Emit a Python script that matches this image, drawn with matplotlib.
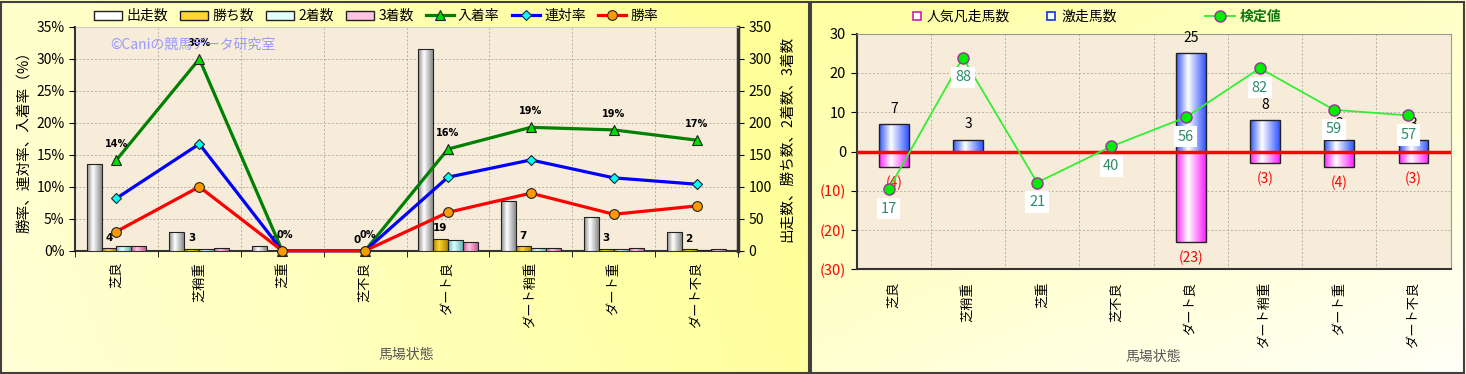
import numpy as np
import matplotlib
matplotlib.use('Agg')
import matplotlib.pyplot as plt
from matplotlib.colors import LinearSegmentedColormap
from matplotlib.lines import Line2D
from matplotlib.patches import Patch, Rectangle

plt.rcParams['font.family'] = ['Noto Sans CJK JP', 'DejaVu Sans']

# ---- data ----
categories = ['芝良', '芝稍重', '芝重', '芝不良', 'ダート良', 'ダート稍重', 'ダート重', 'ダート不良']
starts = [135, 30, 7, 1, 316, 78, 53, 29]
wins = [4, 3, 0, 0, 19, 7, 3, 2]
seconds = [7, 2, 0, 0, 17, 4, 3, 1]
thirds = [8, 4, 0, 0, 14, 4, 4, 2]
top3_rate = [14.2, 30.0, 0, 0, 15.9, 19.3, 18.9, 17.3]
quin_rate = [8.2, 16.7, 0, 0, 11.5, 14.2, 11.4, 10.4]
win_rate = [3.0, 10.0, 0, 0, 6.0, 9.0, 5.7, 7.0]
top3_labels = ['14%', '30%', '0%', '0%', '16%', '19%', '19%', '17%']

surge = [7, 3, 0, 0, 25, 8, 3, 3]
flop = [-4, 0, 0, 0, -23, -3, -4, -3]
kentei = [-9.6, 23.9, -7.9, 1.3, 8.7, 21.2, 10.6, 9.2]
kentei_labels = ['17', '88', '21', '40', '56', '82', '59', '57']

W, H = 1466, 374
fig = plt.figure(figsize=(W / 100, H / 100), dpi=100)


def panel_bg(rect, mode):
    bg = fig.add_axes(rect, zorder=-5)
    xx, yy = np.meshgrid(np.linspace(0, 1, 200), np.linspace(1, 0, 60))
    if mode == 'left':
        t = np.clip(0.35 + 0.6 * xx + 0.1 * yy, 0, 1)
    else:
        t = np.clip(0.4 * (1 - xx) + 0.5 * yy, 0, 1)
    yel = np.array([1, 1, 0.6])
    wht = np.array([1, 1, 0.97])
    img = wht + (yel - wht) * t[..., None]
    bg.imshow(img, aspect='auto', extent=(0, 1, 0, 1))
    bg.set_axis_off()


panel_bg([0, 0, 810 / W, 1], 'left')
panel_bg([810 / W, 0, 1 - 810 / W, 1], 'right')
fig.patches.append(Rectangle((1 / W, 1 / H), 808 / W, 371 / H, transform=fig.transFigure,
                             fill=False, edgecolor='#404040', lw=1.5))
fig.patches.append(Rectangle((811 / W, 1 / H), 653 / W, 371 / H, transform=fig.transFigure,
                             fill=False, edgecolor='#404040', lw=1.5))


def shade(ax, bars, edge, mid):
    cmap = LinearSegmentedColormap.from_list('g', [(0, edge), (0.4, mid), (1, edge)])
    grad = np.linspace(0, 1, 64).reshape(1, -1)
    for b in bars:
        x, y, w, h = b.get_x(), b.get_y(), b.get_width(), b.get_height()
        if h == 0:
            continue
        im = ax.imshow(grad, cmap=cmap, aspect='auto', zorder=2.9,
                       extent=(x, x + w, min(y, y + h), max(y, y + h)))
        im.set_clip_path(b)


x = np.arange(len(categories))
beige = '#F6ECD9'

# ================= left chart =================
ax = fig.add_axes([75 / W, 1 - 250.7 / H, 663 / W, 223.7 / H])
ax.set_facecolor(beige)
axl = ax.twinx()
ax.yaxis.tick_right()
ax.yaxis.set_label_position('right')
axl.yaxis.tick_left()
axl.yaxis.set_label_position('left')

bw = 0.18
bar_specs = [
    (starts, -1.5, '#8A8A8A', '#FFFFFF', '出走数'),
    (wins, -0.5, '#B08400', '#FFD633', '勝ち数'),
    (seconds, 0.5, '#66B8B8', '#E4FFFF', '2着数'),
    (thirds, 1.5, '#C45C96', '#FFC4E4', '3着数'),
]
handles = []
for vals, off, edge, mid, name in bar_specs:
    bars = ax.bar(x + off * bw, vals, bw, facecolor='none', edgecolor='#222222', lw=0.8, zorder=3)
    shade(ax, bars, edge, mid)
    handles.append(Patch(facecolor=mid, edgecolor='#222222', label=name))

for i, v in enumerate(wins):
    ax.annotate(str(v), (x[i] - 0.5 * bw, v), xytext=(0, 4), textcoords='offset points',
                ha='center', va='bottom', fontsize=7.5, fontweight='bold', family='DejaVu Sans')

line_specs = [
    (top3_rate, '#008000', '^', '#00DD00', '入着率'),
    (quin_rate, '#0000FF', 'D', '#00FFFF', '連対率'),
    (win_rate, '#FF0000', 'o', '#FF9900', '勝率'),
]
for vals, c, m, mfc, name in line_specs:
    ms = 5 if m == 'D' else 7
    ln, = axl.plot(x, vals, color=c, lw=2.3, marker=m, ms=ms, mfc=mfc, mec='#222222',
                   mew=0.8, clip_on=False, zorder=5, label=name)
    handles.append(ln)

for i, lbl in enumerate(top3_labels):
    axl.annotate(lbl, (x[i], top3_rate[i]), xytext=(2 if top3_rate[i] == 0 else 0, 8),
                 textcoords='offset points', ha='center', va='bottom', fontsize=7,
                 fontweight='bold', family='DejaVu Sans', zorder=6)

axl.text(0.053, 0.92, '©Caniの競馬データ研究室', transform=axl.transAxes, color='#9999FF',
         fontsize=10, va='center', ha='left', zorder=7)

ax.set_xlim(-0.5, 7.5)
ax.set_ylim(0, 350)
ax.set_yticks(np.arange(0, 351, 50))
axl.set_ylim(0, 35)
axl.set_yticks(np.arange(0, 36, 5))
axl.set_yticklabels([f'{v}%' for v in range(0, 36, 5)])
ax.set_xticks(x)
ax.set_xticklabels(categories, rotation=90, fontsize=9.5)
ax.set_xticks(np.arange(-0.5, 8, 1), minor=True)
ax.tick_params(axis='x', which='major', length=0, pad=8)
ax.tick_params(axis='x', which='minor', length=4)
ax.tick_params(axis='y', labelsize=10, length=4)
axl.tick_params(axis='y', labelsize=10, length=4)
ax.set_axisbelow(True)
ax.grid(axis='y', color='#B8B0A0', ls=(0, (2, 2)), lw=0.7)
ax.grid(axis='x', which='minor', color='#B8B0A0', ls=(0, (2, 2)), lw=0.7)
for s in axl.spines.values():
    s.set_visible(False)
ax.spines['top'].set_color('#CCCCCC')
ax.spines['left'].set_color('#333333')
ax.spines['left'].set_linewidth(1.5)
ax.spines['bottom'].set_color('#333333')
ax.spines['bottom'].set_linewidth(1.5)
ax.spines['right'].set_color('#333333')
ax.spines['right'].set_linewidth(2.5)

axl.set_ylabel('勝率、連対率、入着率（%）', fontsize=10.5, labelpad=4)
ax.set_ylabel('出走数、勝ち数、2着数、3着数', fontsize=10.5, rotation=90, labelpad=6)
ax.set_xlabel('馬場状態', fontsize=10, color='#555555')
ax.xaxis.set_label_coords(0.5, -0.435)

fig.legend(handles=handles, loc='center', bbox_to_anchor=(376 / W, 1 - 16 / H), ncol=7,
           frameon=False, fontsize=10, handlelength=2.0, handleheight=0.6,
           columnspacing=0.9, handletextpad=0.3)

# ================= right chart =================
ar = fig.add_axes([856.7 / W, 1 - 269.3 / H, 594 / W, 235.6 / H])
ar.set_facecolor(beige)
rw = 0.4
b_s = ar.bar(x, surge, rw, facecolor='none', edgecolor='#222222', lw=1.0, zorder=3)
shade(ar, b_s, '#3355FF', '#FFFFFF')
b_f = ar.bar(x, flop, rw, facecolor='none', edgecolor='#222222', lw=1.0, zorder=3)
shade(ar, b_f, '#FF22FF', '#FFFFFF')
ar.axhline(0, color='#FF0000', lw=2.5, zorder=4)

for i in range(len(categories)):
    if surge[i] > 0:
        ar.annotate(str(surge[i]), (x[i], surge[i]), xytext=(0, 6), textcoords='offset points',
                    ha='center', va='bottom', fontsize=10, zorder=4)
    if flop[i] < 0:
        ar.annotate(f'({abs(flop[i])})', (x[i], flop[i]), xytext=(0, -6),
                    textcoords='offset points', ha='center', va='top', fontsize=10,
                    color='#FF0000', zorder=4)

xk = x - 0.07
ar.plot(xk, kentei, color='#33EE33', lw=1.3, marker='o', ms=8, mfc='#00EE00',
        mec='#993399', mew=1, zorder=6)
for i, lbl in enumerate(kentei_labels):
    ar.annotate(lbl, (xk[i], kentei[i]), xytext=(0, -9), textcoords='offset points',
                ha='center', va='top', fontsize=10.5, color='#2E8B67', zorder=7,
                bbox=dict(boxstyle='square,pad=0.25', fc='white', ec='none'))

ar.set_xlim(-0.5, 7.5)
ar.set_ylim(-30, 30)
yt = np.arange(-30, 31, 10)
ar.set_yticks(yt)
ar.set_yticklabels([f'({abs(v)})' if v < 0 else str(v) for v in yt])
for t, v in zip(ar.get_yticklabels(), yt):
    if v < 0:
        t.set_color('#FF0000')
ar.set_xticks(x)
ar.set_xticklabels(categories, rotation=90, fontsize=9.5)
ar.set_xticks(np.arange(-0.5, 8, 1), minor=True)
ar.tick_params(axis='x', which='major', length=0, pad=9)
ar.tick_params(axis='x', which='minor', length=0)
ar.tick_params(axis='y', labelsize=10.5, length=4)
ar.set_axisbelow(True)
ar.grid(axis='y', color='#B8B0A0', ls=(0, (2, 2)), lw=0.7)
ar.grid(axis='x', which='minor', color='#B8B0A0', ls=(0, (2, 2)), lw=0.7)
for side in ['top', 'right']:
    ar.spines[side].set_color('#999999')
for side in ['left', 'bottom']:
    ar.spines[side].set_color('#333333')
    ar.spines[side].set_linewidth(1.5)
ar.set_xlabel('馬場状態', fontsize=10, color='#555555')
ar.xaxis.set_label_coords(0.5, -0.343)

h1 = [Line2D([], [], ls='none', marker='s', ms=6, mfc='white', mec='#CC33AA', mew=1.3, label='人気凡走馬数'),
      Line2D([], [], ls='none', marker='s', ms=6, mfc='white', mec='#2244DD', mew=1.3, label='激走馬数')]
lg1 = fig.legend(handles=h1, loc='center', bbox_to_anchor=(1014 / W, 1 - 17 / H), ncol=2,
                 frameon=False, fontsize=10, handlelength=0.8, handletextpad=0.3,
                 columnspacing=2.6)
h2 = [Line2D([], [], color='#33EE33', lw=1.3, marker='o', ms=8, mfc='#00EE00',
             mec='#993399', label='検定値')]
lg2 = fig.legend(handles=h2, loc='center', bbox_to_anchor=(1243 / W, 1 - 17 / H),
                 frameon=False, fontsize=10, handlelength=2.2, handletextpad=0.3)
for t in lg2.get_texts():
    t.set_color('#117711')
    t.set_fontweight('bold')

fig.savefig('out.png', dpi=100)
